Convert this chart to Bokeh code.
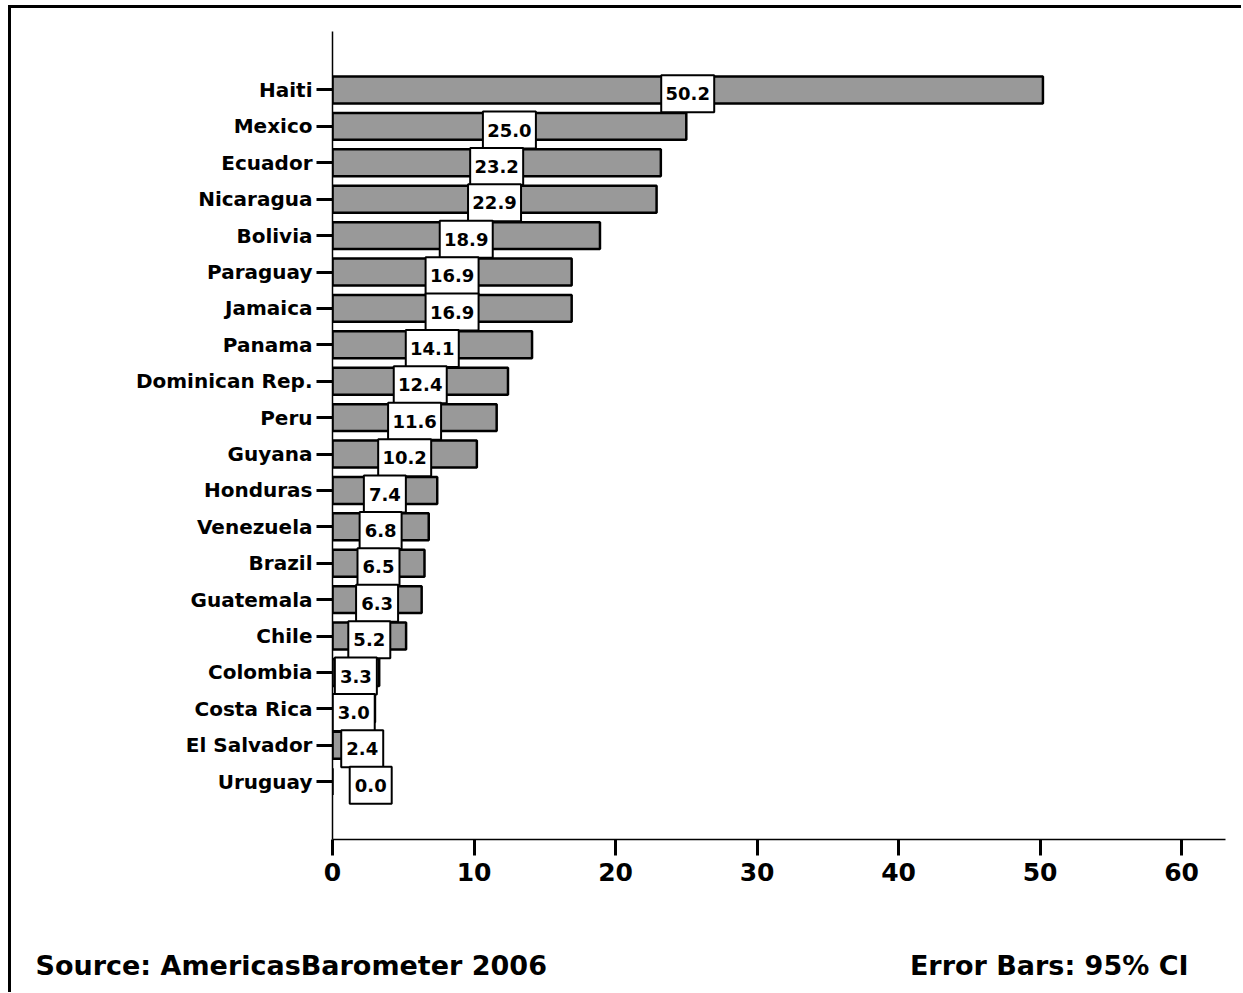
from bokeh.plotting import figure
from bokeh.layouts import column
from bokeh.models import Range1d, FixedTicker, ColumnDataSource
from bokeh.embed import file_html
from bokeh.resources import INLINE
from bokeh.core.properties import value

countries = ["Haiti", "Mexico", "Ecuador", "Nicaragua", "Bolivia", "Paraguay",
             "Jamaica", "Panama", "Dominican Rep.", "Peru", "Guyana", "Honduras",
             "Venezuela", "Brazil", "Guatemala", "Chile", "Colombia", "Costa Rica",
             "El Salvador", "Uruguay"]
values = [50.2, 25.0, 23.2, 22.9, 18.9, 16.9, 16.9, 14.1, 12.4, 11.6, 10.2,
          7.4, 6.8, 6.5, 6.3, 5.2, 3.3, 3.0, 2.4, 0.0]
x_ticks = [0, 10, 20, 30, 40, 50, 60]
source_note = "Source: AmericasBarometer  2006"
ci_note = "Error Bars: 95% CI"

FONT = "DejaVu Sans"

idx = list(range(len(countries)))
labels = [f"{v:.1f}" for v in values]
lx = [v / 2 if v >= 3 else 2.7 - v / 4 for v in values]
box_w = [11 * len(s) + 9 for s in labels]
box_y = [i + 0.1 for i in idx]

src = ColumnDataSource(dict(y=idx, v=values, lx=lx, lab=labels, bw=box_w, by=box_y))

W, H, H2 = 1230, 892, 92
p = figure(width=W, height=H,
           x_range=Range1d(0, 63.1), y_range=Range1d(20.59, -1.607),
           output_backend="svg", toolbar_location=None,
           min_border_left=321, min_border_right=16,
           min_border_top=23, min_border_bottom=61)
p.frame_align = False
p.outline_line_color = None
p.xgrid.visible = False
p.ygrid.visible = False
p.background_fill_color = "white"
p.border_fill_color = "white"

p.hbar(y="y", left=0, right="v", height=0.74, source=src,
       fill_color="#999999", line_color="black", line_width=2.5)
p.rect(x="lx", y="by", width="bw", height=37, width_units="screen",
       height_units="screen", source=src, fill_color="white",
       line_color="black", line_width=2)
p.text(x="lx", y="by", text="lab", source=src, text_align="center",
       text_baseline="middle", text_font=value(FONT), text_font_style="bold",
       text_font_size="18px", text_color="black")

# y axis
p.yaxis.ticker = FixedTicker(ticks=idx)
p.yaxis.major_label_overrides = {i: c for i, c in zip(idx, countries)}
p.yaxis.major_label_text_font = FONT
p.yaxis.major_label_text_font_style = "bold"
p.yaxis.major_label_text_font_size = "20px"
p.yaxis.major_label_text_color = "black"
p.yaxis.major_label_text_baseline = "top"
p.yaxis.major_tick_in = 0
p.yaxis.major_tick_out = 16
p.yaxis.major_tick_line_width = 3
p.yaxis.major_tick_line_color = "black"
p.yaxis.minor_tick_line_color = None
p.yaxis.axis_line_width = 1.5
p.yaxis.axis_line_color = "black"
p.yaxis.major_label_standoff = 4

# x axis
p.xaxis.ticker = FixedTicker(ticks=x_ticks)
p.xaxis.major_label_text_font = FONT
p.xaxis.major_label_text_font_style = "bold"
p.xaxis.major_label_text_font_size = "25px"
p.xaxis.major_label_text_color = "black"
p.xaxis.major_tick_in = 0
p.xaxis.major_tick_out = 16
p.xaxis.major_tick_line_width = 3
p.xaxis.major_tick_line_color = "black"
p.xaxis.minor_tick_line_color = None
p.xaxis.axis_line_width = 1.5
p.xaxis.axis_line_color = "black"
p.xaxis.major_label_standoff = 7

# footer strip (pixel coordinates)
f = figure(width=W, height=H2, x_range=Range1d(0, W), y_range=Range1d(H2, 0),
           output_backend="svg", toolbar_location=None,
           x_axis_type=None, y_axis_type=None,
           min_border_left=0, min_border_right=0, min_border_top=0, min_border_bottom=0)
f.frame_align = False
f.outline_line_color = None
f.xgrid.visible = False
f.ygrid.visible = False
f.background_fill_color = "white"
f.border_fill_color = "white"
f.text(x=[24], y=[65], text=[source_note], text_align="left", text_baseline="middle",
       text_font=value(FONT), text_font_style="bold", text_font_size="27px",
       text_color="black")
f.text(x=[1177], y=[65], text=[ci_note], text_align="right", text_baseline="middle",
       text_font=value(FONT), text_font_style="bold", text_font_size="27px",
       text_color="black")

layout = column(p, f, spacing=0,
                styles={"margin-left": "8px", "margin-top": "5px",
                        "border-left": "3px solid black", "border-top": "3px solid black"})

open("out.html", "w").write(file_html(layout, INLINE))
